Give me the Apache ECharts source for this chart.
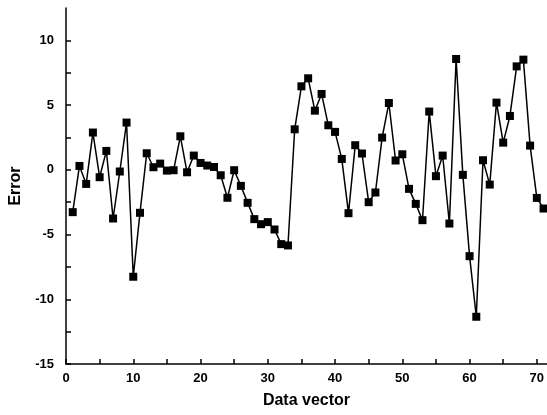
<!DOCTYPE html>
<html>
<head>
<meta charset="utf-8">
<script src="https://cdn.jsdelivr.net/npm/echarts@6/dist/echarts.min.js"></script>
<style>html,body{margin:0;padding:0;background:#fff;}#c{width:547px;height:415px;}</style>
</head>
<body>
<div id="c"></div>
<script>
var xValues = [1,2,3,4,5,6,7,8,9,10,11,12,13,14,15,16,17,18,19,20,21,22,23,24,25,26,27,28,29,30,31,32,33,34,35,36,37,38,39,40,41,42,43,44,45,46,47,48,49,50,51,52,53,54,55,56,57,58,59,60,61,62,63,64,65,66,67,68,69,70,71];
var errorValues = [-3.27,0.3,-1.09,2.88,-0.57,1.46,-3.76,-0.13,3.65,-8.26,-3.32,1.28,0.2,0.48,-0.06,-0.03,2.59,-0.19,1.1,0.53,0.33,0.22,-0.42,-2.16,-0.03,-1.24,-2.55,-3.81,-4.2,-4.04,-4.61,-5.74,-5.84,3.13,6.45,7.07,4.57,5.86,3.44,2.93,0.84,-3.35,1.9,1.26,-2.5,-1.75,2.49,5.16,0.72,1.2,-1.47,-2.63,-3.89,4.5,-0.49,1.1,-4.15,8.56,-0.39,-6.67,-11.35,0.74,-1.14,5.19,2.1,4.16,7.99,8.51,1.87,-2.17,-2.99];
var xTickLabels = [0,10,20,30,40,50,60,70];
var yTickLabels = [-15,-10,-5,0,5,10];

var data = xValues.map(function(x,i){return [x, errorValues[i]];});
var chart = echarts.init(document.getElementById('c'), null, {renderer:'canvas'});
var lbl = {color:'#000', fontFamily:'Liberation Sans, Arial', fontSize:13, fontWeight:'bold'};
var nameStyle = {color:'#000', fontFamily:'Liberation Sans, Arial', fontSize:16, fontWeight:'bold'};
chart.setOption({
  animation:false,
  grid:{left:63, right:-2, top:8, bottom:51, containLabel:false},
  xAxis:{
    type:'value', min:0, max:71.5, interval:5,
    name:'Data vector', nameLocation:'middle', nameGap:29,
    nameTextStyle:nameStyle,
    axisLine:{show:true, onZero:false, lineStyle:{color:'#000', width:1.5}},
    axisTick:{show:true, inside:true, length:5, lineStyle:{color:'#000', width:1.5}},
    splitLine:{show:false},
    axisLabel:Object.assign({margin:8, showMaxLabel:false, formatter:function(v){return xTickLabels.indexOf(v)>=0 ? String(v) : '';}}, lbl)
  },
  yAxis:{
    type:'value', min:-15, max:12.5, interval:2.5,
    name:'Error', nameLocation:'middle', nameGap:42, nameRotate:90,
    nameTextStyle:nameStyle,
    axisLine:{show:true, onZero:false, lineStyle:{color:'#000', width:1.5}},
    axisTick:{show:true, inside:true, length:5, lineStyle:{color:'#000', width:1.5}},
    splitLine:{show:false},
    axisLabel:Object.assign({margin:12, showMaxLabel:false, formatter:function(v){return yTickLabels.indexOf(v)>=0 ? String(v) : '';}}, lbl)
  },
  series:[{
    type:'line', data:data, clip:false,
    symbol:'rect', symbolSize:8,
    lineStyle:{color:'#000', width:1.5},
    itemStyle:{color:'#000'}
  }]
});
</script>
</body>
</html>
